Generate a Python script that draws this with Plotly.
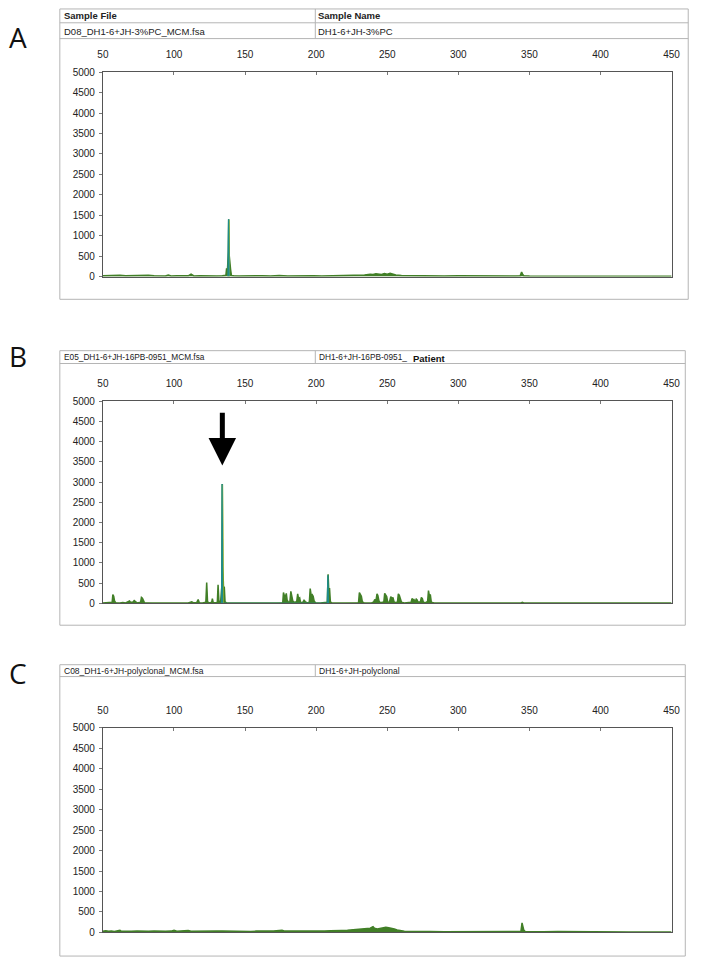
import plotly.graph_objects as go

W, H = 708, 966

# ---------------- data (size in bp, RFU) ----------------
tick_sizes = [50, 100, 150, 200, 250, 300, 350, 400, 450]
tick_rfu = [0, 500, 1000, 1500, 2000, 2500, 3000, 3500, 4000, 4500, 5000]

# Panel A: 3% PC
size_A = [50, 54, 58, 62, 66, 70, 74, 78, 82, 86, 90, 94, 96, 98, 102, 106, 110, 112, 114,
          118, 122, 126, 130, 134, 136.5, 137, 137.6, 138.2, 138.5, 138.9, 139.3, 139.8,
          140.4, 142, 146, 150, 156, 162, 168, 174, 180, 186, 192, 198, 204, 210, 216, 222,
          228, 234, 238, 240, 242, 244, 246, 248, 250, 252, 254, 256, 260, 266, 272, 280,
          290, 300, 310, 320, 330, 340, 343.5, 344.5, 345.2, 346, 350, 360, 380, 400, 420,
          440, 450]
rfu_A = [20, 25, 15, 30, 20, 25, 15, 20, 30, 20, 25, 15, 40, 15, 20, 25, 20, 60, 15,
         20, 15, 20, 15, 20, 30, 200, 150, 600, 1400, 500, 200, 180,
         30, 20, 15, 20, 15, 20, 15, 25, 15, 20, 15, 20, 15, 20, 15, 20,
         25, 40, 60, 50, 70, 55, 50, 75, 60, 80, 55, 40, 25, 20, 15, 20,
         15, 20, 15, 15, 15, 15, 20, 110, 60, 20, 15, 15, 10, 10, 10,
         10, 10]
teal_size_A = [138.0, 138.4, 138.8]
teal_rfu_A = [0, 1400, 0]
yel_size_A = [138.3, 138.6, 138.95]
yel_rfu_A = [0, 1380, 0]

# Panel B: patient
size_B = [50, 53, 55, 56.5, 57, 57.6, 58.2, 59, 62, 64, 66, 68, 68.7, 69.4, 71, 72, 72.8, 74,
          76.5, 77.1, 77.8, 78.5, 79.2, 85, 95, 105, 110, 112.5, 113.5, 116, 117, 117.8, 120,
          122.4, 123, 123.6, 125, 126.5, 127, 127.6, 130, 130.5, 131, 131.6, 132.8, 133.6,
          134, 134.4, 134.8, 135.4, 135.9, 137, 145, 155, 165, 172, 176.5, 177, 177.6, 178.2,
          179, 179.6, 180.5, 181.5, 182.2, 182.8, 183.6, 184.5, 186.3, 187, 187.6, 188.4, 189,
          190.5, 191.5, 192.3, 193.5, 195.2, 195.8, 196.5, 197.2, 197.9, 198.6, 199.5, 203,
          207.8, 208.4, 208.9, 209.4, 210, 211, 220, 229.8, 230.4, 231, 231.8, 232.5, 233.5,
          235, 239, 240.5, 241.2, 242, 242.8, 243.4, 244.2, 245, 247.6, 248.2, 248.9, 249.6,
          250.3, 251.5, 252.5, 253.2, 254, 254.8, 256, 257.2, 257.8, 258.5, 259.3, 260, 262,
          266.8, 267.4, 268, 268.8, 269.5, 270.4, 271, 271.7, 273.3, 274, 274.7, 275.4, 277,
          278.4, 279, 279.6, 280.3, 281, 283, 290, 300, 320, 344, 345, 346, 350, 380, 420, 450]
rfu_B = [15, 15, 20, 30, 220, 180, 60, 20, 15, 25, 15, 40, 60, 30, 30, 70, 50, 15,
         30, 150, 130, 60, 20, 10, 10, 10, 15, 40, 20, 20, 100, 20, 15,
         30, 520, 40, 15, 30, 120, 20, 20, 40, 460, 60, 40, 400,
         2950, 900, 420, 400, 40, 15, 10, 10, 10, 10, 20, 270, 200, 150,
         250, 80, 30, 40, 300, 150, 60, 30, 40, 240, 120, 140, 30,
         20, 80, 50, 15, 30, 370, 200, 220, 180, 60, 20, 10,
         30, 720, 300, 380, 40, 15, 10, 20, 270, 220, 180, 40, 20,
         15, 15, 40, 100, 60, 240, 200, 60, 20, 40, 250, 200, 170,
         40, 30, 170, 120, 150, 40, 20, 40, 240, 200, 110, 30, 15,
         30, 120, 100, 100, 30, 110, 90, 30, 40, 150, 120, 30, 20,
         50, 320, 200, 220, 30, 15, 10, 10, 10, 15, 30, 15, 10, 10, 10, 10]
teal_size_B = [207.9, 208.25, 208.6, 133.5, 133.85, 134.2]
teal_rfu_B = [0, 700, 0, 0, 2950, 0]
yel_size_B = [133.85, 134.1, 134.45]
yel_rfu_B = [0, 2930, 0]

# Panel C: polyclonal
size_C = [50, 52, 54, 56, 58, 60, 62, 63, 66, 70, 74, 78, 82, 86, 90, 94, 98, 100, 102, 106,
          110, 112, 116, 118, 122, 126, 128, 130, 134, 138, 142, 146, 150, 154, 158, 162, 166,
          170, 174, 176, 178, 182, 186, 190, 194, 198, 202, 206, 210, 214, 218, 222, 226, 230,
          234, 236, 238, 240, 241, 243, 245, 247, 249, 251, 253, 255, 257, 259, 262, 266, 270,
          280, 290, 300, 310, 320, 330, 340, 344, 344.8, 345.4, 346, 347, 350, 360, 370, 380,
          390, 400, 410, 420, 430, 440, 450]
rfu_C = [30, 40, 25, 35, 20, 30, 50, 25, 20, 25, 30, 20, 25, 30, 20, 25, 30, 50, 25, 30,
         45, 25, 30, 20, 35, 25, 45, 30, 30, 25, 35, 30, 25, 20, 30, 25, 30,
         35, 40, 50, 30, 30, 25, 20, 25, 20, 25, 30, 40, 35, 45, 50, 60, 70,
         90, 80, 100, 140, 100, 80, 95, 120, 125, 110, 100, 80, 60, 40, 25, 20, 15,
         20, 15, 15, 15, 15, 15, 15, 20, 230, 120, 60, 20, 15, 15, 20, 15,
         15, 12, 12, 10, 10, 10, 10]

panels = [
    dict(letter="A", file_hdr="Sample File", name_hdr="Sample Name",
         file="D08_DH1-6+JH-3%PC_MCM.fsa", name="DH1-6+JH-3%PC",
         size=size_A, rfu=rfu_A, ts=teal_size_A, tr=teal_rfu_A, ys=yel_size_A, yr=yel_rfu_A,
         box=(55, 3, 697, 297), rows=[17, 33], plot=(99, 67, 680, 274), letter_y=31,
         fs=9.5),
    dict(letter="B", file_hdr=None, name_hdr=None,
         file="E05_DH1-6+JH-16PB-0951_MCM.fsa", name="DH1-6+JH-16PB-0951_",
         size=size_B, rfu=rfu_B, ts=teal_size_B, tr=teal_rfu_B, ys=yel_size_B, yr=yel_rfu_B,
         box=(55, 349, 694, 627), rows=[362], plot=(99, 400, 680, 605), letter_y=354,
         fs=8.3),
    dict(letter="C", file_hdr=None, name_hdr=None,
         file="C08_DH1-6+JH-polyclonal_MCM.fsa", name="DH1-6+JH-polyclonal",
         size=size_C, rfu=rfu_C, ts=[], tr=[], ys=[], yr=[],
         box=(55, 667, 694, 962), rows=[679], plot=(99, 731, 680, 938), letter_y=675,
         fs=8.5),
]

GREEN = "#417f27"
TEAL = "#1e8c8a"
YELLOW = "#e6d600"
FONT = "Arial, Liberation Sans, sans-serif"


def px(x):
    return x / W


def py(y):
    return 1 - y / H


fig = go.Figure()
shapes = []
annotations = []
BOXC = "#b5b5b5"

for i, p in enumerate(panels):
    n = "" if i == 0 else str(i + 1)
    xa, ya = "x" + n, "y" + n
    fig.add_trace(go.Scatter(x=p["size"], y=p["rfu"], mode="lines", fill="tozeroy",
                             line=dict(color=GREEN, width=1.5), fillcolor=GREEN,
                             xaxis=xa, yaxis=ya, showlegend=False, hoverinfo="skip"))
    if p["ys"]:
        fig.add_trace(go.Scatter(x=p["ys"], y=p["yr"], mode="lines",
                                 line=dict(color=YELLOW, width=1.2),
                                 xaxis=xa, yaxis=ya, showlegend=False, hoverinfo="skip"))
    if p["ts"]:
        fig.add_trace(go.Scatter(x=p["ts"], y=p["tr"], mode="lines",
                                 line=dict(color=TEAL, width=1.4),
                                 xaxis=xa, yaxis=ya, showlegend=False, hoverinfo="skip"))
    l, t, r, b = p["plot"]
    axx = dict(domain=[px(l), px(r)], range=[50, 450], side="top", tickvals=tick_sizes,
               ticks="inside", ticklen=3, tickcolor="#777", showline=True, mirror=True,
               linecolor="#555", linewidth=1, showgrid=False, zeroline=False,
               tickfont=dict(family=FONT, size=10, color="#222"), ticklabelstandoff=9,
               anchor=ya, fixedrange=True)
    axy = dict(domain=[py(b), py(t)], range=[0, 5000], tickvals=tick_rfu,
               ticks="outside", ticklen=3, tickcolor="#777", showline=True, mirror=True,
               linecolor="#555", linewidth=1, showgrid=False, zeroline=False,
               tickfont=dict(family=FONT, size=10, color="#222"), ticklabelstandoff=2,
               anchor=xa, fixedrange=True)
    fig.layout["xaxis" + n] = axx
    fig.layout["yaxis" + n] = axy

    x0, y0, x1, y1 = p["box"]
    shapes.append(dict(type="rect", xref="paper", yref="paper", x0=px(x0), x1=px(x1),
                       y0=py(y1), y1=py(y0), line=dict(color=BOXC, width=1)))
    for ry in p["rows"]:
        shapes.append(dict(type="line", xref="paper", yref="paper", x0=px(x0), x1=px(x1),
                           y0=py(ry), y1=py(ry), line=dict(color=BOXC, width=1)))
    shapes.append(dict(type="line", xref="paper", yref="paper", x0=px(316), x1=px(316),
                       y0=py(p["rows"][-1]), y1=py(y0), line=dict(color=BOXC, width=1)))

    def txt(x, y, s, size, bold=False, xanchor="left"):
        annotations.append(dict(xref="paper", yref="paper", x=px(x), y=py(y), text=s,
                                showarrow=False, xanchor=xanchor, yanchor="middle",
                                font=dict(family=FONT, size=size, color="#222",
                                          weight="bold" if bold else "normal")))

    fs = p["fs"]
    if p["file_hdr"]:
        txt(57, 10, p["file_hdr"], fs, True)
        txt(317, 10, p["name_hdr"], fs, True)
        txt(57, 25.5, p["file"], fs)
        txt(317, 25.5, p["name"], fs)
    else:
        ry = p["rows"][0]
        txt(57, (y0 + ry) / 2, p["file"], fs)
        txt(318, (y0 + ry) / 2, p["name"], fs)
    annotations.append(dict(xref="paper", yref="paper", x=px(12), y=py(p["letter_y"]),
                            text=p["letter"], showarrow=False, xanchor="center",
                            yanchor="middle", font=dict(family="Open Sans", size=28,
                                                        color="#111")))

# "Patient" label
annotations.append(dict(xref="paper", yref="paper", x=px(414), y=py(356.5), text="Patient",
                        showarrow=False, xanchor="left", yanchor="middle",
                        font=dict(family=FONT, size=9.5, color="#111", weight="bold")))

# arrow pointing at the clonal peak in panel B
annotations.append(dict(x=134, y=2980 + 430, xref="x2", yref="y2", ax=134, ay=4750,
                        axref="x2", ayref="y2", text="", showarrow=True, arrowhead=2,
                        arrowsize=1.1, arrowwidth=5, arrowcolor="#000"))

fig.update_layout(width=W, height=H, margin=dict(l=0, r=0, t=0, b=0),
                  paper_bgcolor="white", plot_bgcolor="white",
                  shapes=shapes, annotations=annotations, showlegend=False)

fig.write_html("out.html", config={"displayModeBar": False},
               post_script="document.body.style.margin='0';document.body.style.overflow='hidden';")
